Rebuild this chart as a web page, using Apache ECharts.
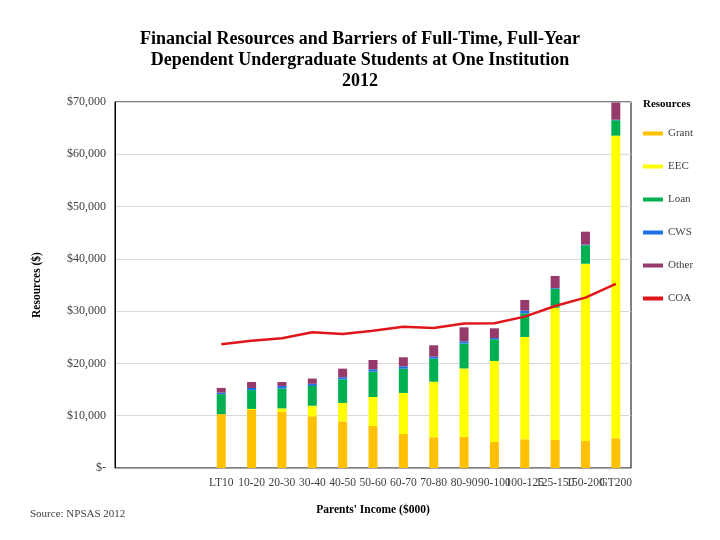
<!DOCTYPE html>
<html>
<head>
<meta charset="utf-8">
<script src="https://cdn.jsdelivr.net/npm/echarts@6/dist/echarts.min.js"></script>
<style>html,body{margin:0;padding:0;background:#fff}#c{width:720px;height:540px}</style>
</head>
<body>
<div id="c"></div>
<script>
// Parents' income categories (first three slots are empty on the axis)
const leadingBlanks = 3;
const incomeLabels = ['LT10','10-20','20-30','30-40','40-50','50-60','60-70','70-80','80-90','90-100','100-125','125-150','150-200','GT200'];
const grant = [10300, 11100, 10700, 9900, 8900, 8030, 6500, 5870, 5950, 4970, 5490, 5360, 5170, 5680];
const eec   = [0, 200, 700, 2000, 3550, 5550, 7850, 10630, 13080, 15500, 19570, 25300, 33900, 57890];
const loan  = [3820, 3600, 3800, 3800, 4500, 4840, 4650, 4400, 4770, 4150, 4530, 3640, 3530, 2940];
const cws   = [300, 400, 500, 400, 400, 460, 450, 400, 430, 250, 500, 130, 120, 100];
const other = [900, 1150, 750, 1000, 1650, 1780, 1720, 2170, 2670, 1850, 2050, 2300, 2480, 3300];
const coa   = [23660, 24350, 24800, 25950, 25650, 26270, 27030, 26780, 27620, 27680, 28950, 30990, 32580, 35200];
const yTicks = [0, 10000, 20000, 30000, 40000, 50000, 60000, 70000];

const pad = arr => Array(leadingBlanks).fill(null).concat(arr);
const categories = Array(leadingBlanks).fill('').concat(incomeLabels);

const serif = 'Liberation Serif';
const chart = echarts.init(document.getElementById('c'));
const barSeries = (name, data, color) => ({
  name, type: 'bar', stack: 'res', data: pad(data), barWidth: 9,
  itemStyle: { color }, emphasis: { disabled: true }
});
chart.setOption({
  animation: false,
  title: [
    {
      text: 'Financial Resources and Barriers of Full-Time, Full-Year\nDependent Undergraduate Students at One Institution\n2012',
      left: 'center', top: 24,
      textStyle: { fontFamily: serif, fontWeight: 'bold', fontSize: 18, lineHeight: 21, color: '#000' }
    },
    {
      text: 'Resources', left: 638, top: 94,
      textStyle: { fontFamily: serif, fontWeight: 'bold', fontSize: 11, color: '#000' }
    },
    {
      text: 'Source: NPSAS 2012', left: 25, top: 504,
      textStyle: { fontFamily: serif, fontWeight: 'normal', fontSize: 11, color: '#404040' }
    }
  ],
  legend: {
    orient: 'vertical', left: 638, top: 123,
    itemWidth: 20, itemHeight: 4, itemGap: 22,
    textStyle: { fontFamily: serif, fontSize: 11, color: '#404040' },
    data: ['Grant','EEC','Loan','CWS','Other','COA'].map(n => ({ name: n, icon: 'rect' }))
  },
  grid: {
    left: 115, right: 89, top: 102, bottom: 72,
    show: true, borderColor: '#000', borderWidth: 1
  },
  xAxis: {
    type: 'category', data: categories,
    name: "Parents' Income ($000)", nameLocation: 'middle', nameGap: 36,
    nameTextStyle: { fontFamily: serif, fontWeight: 'bold', fontSize: 11.5, color: '#000' },
    axisLine: { lineStyle: { color: '#a6a6a6' } },
    axisTick: { show: false },
    axisLabel: { interval: 0, fontFamily: serif, fontSize: 11.5, color: '#404040', margin: 9 }
  },
  yAxis: {
    type: 'value', min: yTicks[0], max: yTicks[yTicks.length - 1], interval: 10000,
    name: 'Resources ($)', nameLocation: 'middle', nameGap: 72,
    nameTextStyle: { fontFamily: serif, fontWeight: 'bold', fontSize: 11.5, color: '#000' },
    axisLine: { show: true, lineStyle: { color: '#000' } },
    axisTick: { show: false },
    splitLine: { lineStyle: { color: '#d9d9d9' } },
    axisLabel: {
      fontFamily: serif, fontSize: 12, color: '#404040', margin: 9,
      formatter: v => v === 0 ? '$-' : '$' + v.toLocaleString('en-US')
    }
  },
  series: [
    barSeries('Grant', grant, '#FFC000'),
    barSeries('EEC', eec, '#FFFF00'),
    barSeries('Loan', loan, '#00B050'),
    barSeries('CWS', cws, '#1F6FE5'),
    barSeries('Other', other, '#953A6B'),
    {
      name: 'COA', type: 'line', data: pad(coa), symbol: 'none', z: 5,
      lineStyle: { color: '#E0161B', width: 2.5 }, itemStyle: { color: '#E0161B' },
      emphasis: { disabled: true }
    }
  ]
});
</script>
</body>
</html>
